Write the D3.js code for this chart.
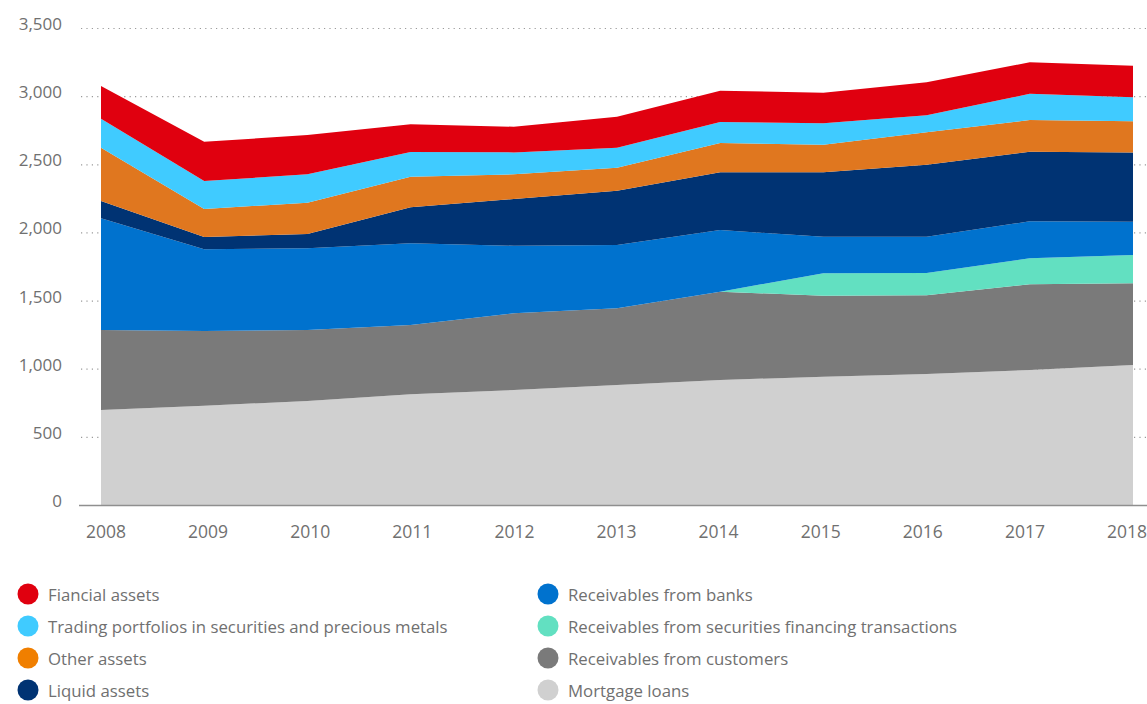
<!DOCTYPE html>
<html>
<head>
<meta charset="utf-8">
<script src="https://cdn.jsdelivr.net/npm/d3@7"></script>
<style>
  body { margin: 0; background: #fff; }
  text { font-family: "Open Sans", "Noto Sans", sans-serif; }
</style>
</head>
<body>
<svg id="chart" width="1147" height="704"></svg>
<script>
// Data (CHF bn, stacked bottom to top)
const years = [2008, 2009, 2010, 2011, 2012, 2013, 2014, 2015, 2016, 2017, 2018];
const mortgage = [700, 732, 767, 816, 847, 884, 921, 945, 965, 994, 1031];
const customers = [588, 548, 521, 508, 563, 563, 648, 594, 577, 629, 599];
const securitiesFin = [0, 0, 0, 0, 0, 0, 0, 165, 164, 191, 208];
const banks = [819, 600, 599, 600, 496, 464, 452, 268, 266, 271, 244];
const liquid = [127, 90, 105, 264, 343, 399, 424, 473, 528, 511, 509];
const other = [391, 205, 230, 224, 181, 168, 215, 202, 238, 232, 228];
const trading = [213, 206, 208, 182, 161, 147, 154, 157, 125, 193, 176];
const financial = [240, 288, 288, 203, 188, 228, 229, 225, 242, 231, 232];
const yTicks = [0, 500, 1000, 1500, 2000, 2500, 3000, 3500];

// series order: bottom of the stack first
const series = [
    { key: "mortgage", label: "Mortgage loans", color: "#d0d0d0", values: mortgage },
    { key: "customers", label: "Receivables from customers", color: "#7a7a7a", values: customers },
    { key: "securitiesFin", label: "Receivables from securities financing transactions", color: "#62e0c1", values: securitiesFin },
    { key: "banks", label: "Receivables from banks", color: "#0072ce", values: banks },
    { key: "liquid", label: "Liquid assets", color: "#003373", values: liquid },
    { key: "other", label: "Other assets", color: "#e0771f", values: other },
    { key: "trading", label: "Trading portfolios in securities and precious metals", color: "#40cbff", values: trading },
    { key: "financial", label: "Fiancial assets", color: "#e0000f", values: financial },
];

const rows = years.map((y, i) => {
    const r = { year: y };
    series.forEach(s => { r[s.key] = s.values[i]; });
    return r;
});

const svg = d3.select("#chart");

const x = d3.scaleLinear()
    .domain([2008, 2018])
    .range([101, 1133]);

// the year labels sit on a slightly narrower spread than the areas
const xLabel = d3.scaleLinear()
    .domain([2008, 2018])
    .range([106, 1127]);

const y = d3.scaleLinear()
    .domain([0, 3500])
    .range([505.5, 28.5]);

// dotted grid lines
svg.append("g")
    .selectAll("line")
    .data(yTicks.filter(d => d > 0))
    .enter()
    .append("line")
    .attr("x1", 81)
    .attr("x2", 1147)
    .attr("y1", d => y(d))
    .attr("y2", d => y(d))
    .attr("stroke", "#9a9a9a")
    .attr("stroke-width", 1.2)
    .attr("stroke-dasharray", "1.2,4.2");

const stack = d3.stack().keys(series.map(s => s.key));
const layers = stack(rows);

const area = d3.area()
    .x(d => x(d.data.year))
    .y0(d => y(d[0]))
    .y1(d => y(d[1]));

svg.append("g")
    .selectAll("path")
    .data(layers)
    .enter()
    .append("path")
    .attr("d", area)
    .attr("fill", (d, i) => series[i].color);

// baseline
svg.append("line")
    .attr("x1", 79)
    .attr("x2", 1147)
    .attr("y1", y(0))
    .attr("y2", y(0))
    .attr("stroke", "#8f8f8f")
    .attr("stroke-width", 1.5);

// y tick labels
svg.append("g")
    .selectAll("text")
    .data(yTicks)
    .enter()
    .append("text")
    .attr("x", 62)
    .attr("y", d => y(d) + 1.5)
    .attr("text-anchor", "end")
    .attr("font-size", 17)
    .attr("fill", "#707070")
    .text(d => d3.format(",")(d));

// x tick labels
svg.append("g")
    .selectAll("text")
    .data(years)
    .enter()
    .append("text")
    .attr("x", d => xLabel(d))
    .attr("y", 538)
    .attr("text-anchor", "middle")
    .attr("font-size", 17.5)
    .attr("fill", "#707070")
    .text(d => d);

// legend: two columns, top of stack first
const legendItems = series.slice().reverse();
const legend = svg.append("g")
    .selectAll("g")
    .data(legendItems)
    .enter()
    .append("g")
    .attr("transform", (d, i) => {
        const col = i < 4 ? 0 : 1;
        const row = i % 4;
        return `translate(${col === 0 ? 28 : 548}, ${594 + row * 32})`;
    });

legend.append("circle")
    .attr("r", 10.5)
    .attr("fill", d => d.key === "other" ? "#f07f00" : d.color);

legend.append("text")
    .attr("x", 20)
    .attr("y", 6.5)
    .attr("font-size", 16.8)
    .attr("fill", "#707070")
    .text(d => d.label);
</script>
</body>
</html>
